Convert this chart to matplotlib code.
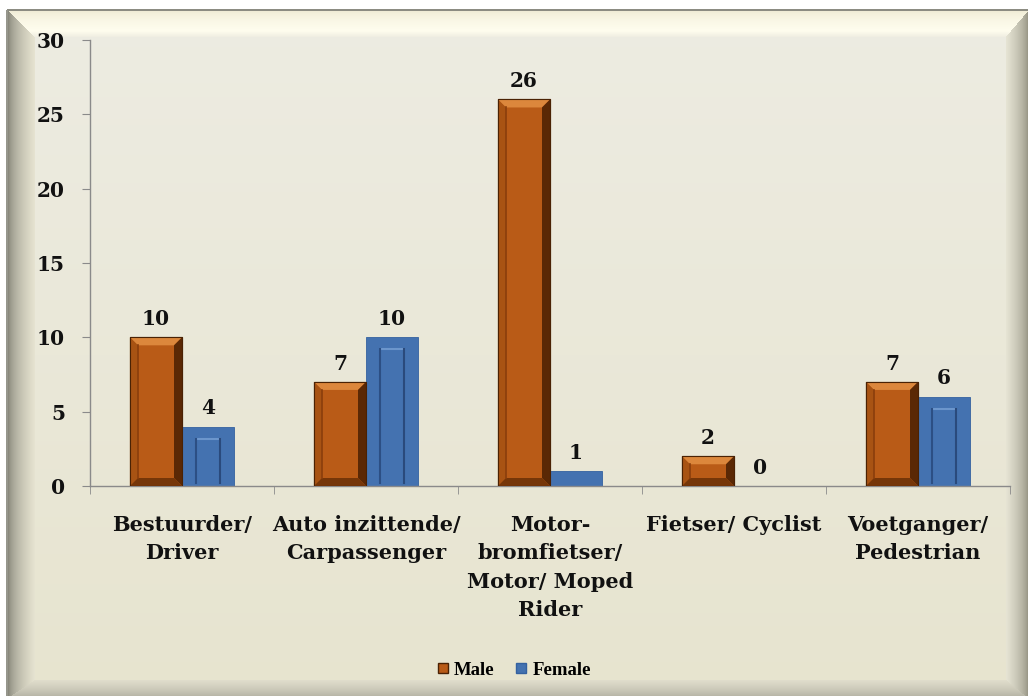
import numpy as np
import matplotlib
matplotlib.use('Agg')
import matplotlib.pyplot as plt
from matplotlib.patches import Polygon
from matplotlib.lines import Line2D

# ---------------- data ----------------
categories = ['Bestuurder/\nDriver', 'Auto inzittende/\nCarpassenger',
              'Motor-\nbromfietser/\nMotor/ Moped\nRider', 'Fietser/ Cyclist',
              'Voetganger/\nPedestrian']
male = [10, 7, 26, 2, 7]
female = [4, 10, 1, 0, 6]
series_names = ['Male', 'Female']
yticks = [0, 5, 10, 15, 20, 25, 30]

W, H = 1028, 696
FONT = 'DejaVu Serif'
plt.rcParams['font.family'] = [FONT, 'Liberation Serif']
plt.rcParams['font.weight'] = 'bold'

fig = plt.figure(figsize=(W / 100, H / 100), dpi=100)
fig.patch.set_facecolor('white')

# ---------------- framed background ----------------
bg = fig.add_axes([0, 0, 1, 1])
bg.axis('off')
yy, xx = np.mgrid[0:H, 0:W].astype(float)
img = np.ones((H, W, 3))
L, T, R, B = 7, 10, 1028, 698
wl, wt, wr, wb = 28, 27, 23, 19
t = np.clip((yy - T) / (B - T), 0, 1)[..., None]
top_col = np.array([237, 236, 226]) / 255
bot_col = np.array([231, 228, 207]) / 255
base = top_col * (1 - t) + bot_col * t
dl = (xx - L) / wl
dt = (yy - T) / wt
dr = (R - xx) / wr
db = (B - yy) / wb
stack = np.stack([dl, dt, dr, db])
side = np.argmin(stack, axis=0)
m = np.min(stack, axis=0)
s = np.clip(m, 0, 1)[..., None]


def grad(c0, c1, p=1.0):
    c0 = np.array(c0) / 255
    c1 = np.array(c1) / 255
    return c0 + (c1 - c0) * (s ** p)


left_c = grad((115, 115, 104), (232, 229, 210), 0.5)
right_c = grad((140, 138, 122), (232, 230, 214), 0.6)
bot_c = grad((170, 168, 155), (226, 223, 205), 0.7)
tt = s[..., 0]
c_a = np.array([236, 232, 208]) / 255
c_b = np.array([255, 253, 238]) / 255
c_c = np.array([238, 236, 224]) / 255
top_c = np.where((tt < 0.75)[..., None],
                 c_a + (c_b - c_a) * np.clip(tt / 0.75, 0, 1)[..., None] ** 0.5,
                 c_b + (c_c - c_b) * np.clip((tt - 0.75) / 0.25, 0, 1)[..., None])
frame = base.copy()
inb = (m < 1)
for k, c in enumerate([left_c, top_c, right_c, bot_c]):
    sel = inb & (side == k)
    frame[sel] = c[sel]
inside = (xx >= L) & (yy >= T)
img[inside] = frame[inside]
img[(yy >= T - 1) & (yy < T + 1) & (xx >= L)] = np.array([140, 140, 130]) / 255
img[(xx >= L - 1) & (xx < L + 1) & (yy >= T)] = np.array([150, 150, 140]) / 255
bg.imshow(img, extent=[0, W, H, 0], aspect='auto', interpolation='bilinear')
bg.set_xlim(0, W)
bg.set_ylim(H, 0)

# ---------------- main axes ----------------
ax = fig.add_axes([90 / W, (H - 486) / H, 920 / W, 446 / H])
ax.patch.set_alpha(0)
n = len(categories)
x = np.arange(n)
bw = 0.283

male_style = dict(face='#b95b17', top='#dc873c', left='#a85313', right='#5a2805',
                  bottom='#763608', edge='#4a2204', inner='#8a3e0c')
female_style = dict(face='#4472b0', top='#6c96cc', left='#2c4f84', right='#2a4a7c',
                    edge='#3461a0')

bars_m = ax.bar(x - bw / 2, male, bw, color=male_style['face'],
                edgecolor=male_style['edge'], linewidth=0.8, zorder=2)
bars_f = ax.bar(x + bw / 2, female, bw, color=female_style['face'],
                edgecolor=female_style['edge'], linewidth=0.6, zorder=2)

px_x = 1.0 / 184.0
px_y = 30.0 / 446.0

# bevel effect on male bars
st = male_style
for p in bars_m:
    h = p.get_height()
    if h <= 0:
        continue
    x0 = p.get_x()
    x1 = x0 + p.get_width()
    y0, y1 = 0, h
    dx = min(8 * px_x, 0.3 * p.get_width())
    dy = min(8 * px_y, 0.3 * h)
    polys = [
        ([(x0, y1), (x1, y1), (x1 - dx, y1 - dy), (x0 + dx, y1 - dy)], st['top']),
        ([(x0, y0), (x0, y1), (x0 + dx, y1 - dy), (x0 + dx, y0 + dy)], st['left']),
        ([(x1, y0), (x1, y1), (x1 - dx, y1 - dy), (x1 - dx, y0 + dy)], st['right']),
        ([(x0, y0), (x1, y0), (x1 - dx, y0 + dy), (x0 + dx, y0 + dy)], st['bottom']),
    ]
    for pts, c in polys:
        ax.add_patch(Polygon(pts, closed=True, facecolor=c, edgecolor='none', zorder=3))
    ax.plot([x0 + dx, x0 + dx], [y0 + dy, y1 - dy], color=st['inner'], lw=1.2, zorder=4)
    ax.plot([x0, x1, x1, x0, x0], [y0, y0, y1, y1, y0], color=st['edge'], lw=0.8, zorder=4)

# embossed inner panel on female bars
st = female_style
for p in bars_f:
    h = p.get_height()
    if h <= 0:
        continue
    x0 = p.get_x()
    x1 = x0 + p.get_width()
    y1 = h
    dx = 14 * px_x
    dy = min(12 * px_y, 0.5 * h)
    if h * 446 / 30 < 30:
        continue
    ax.plot([x0 + dx, x1 - dx], [y1 - dy, y1 - dy], color=st['top'], lw=1.5, zorder=4)
    ax.plot([x0 + dx, x0 + dx], [y1 - dy, 3 * px_y], color=st['left'], lw=1.5, zorder=4)
    ax.plot([x1 - dx, x1 - dx], [y1 - dy, 3 * px_y], color=st['right'], lw=1.5, zorder=4)

# value labels
for bars, vals in [(bars_m, male), (bars_f, female)]:
    for p, v in zip(bars, vals):
        ax.annotate(str(v), (p.get_x() + p.get_width() / 2, v), xytext=(0, 6),
                    textcoords='offset points', ha='center', va='bottom',
                    fontsize=14.5, fontweight='bold', color='#111111', zorder=5)

ax.set_xlim(-0.5, n - 0.5)
ax.set_ylim(0, 30)
ax.set_yticks(yticks)
ax.set_yticklabels([str(v) for v in yticks], fontsize=14.5, fontweight='bold', color='#111111')
ax.set_xticks(x)
ax.set_xticklabels(categories, fontsize=15, fontweight='bold', color='#111111',
                   linespacing=1.52)
ax.set_xticks(np.arange(-0.5, n, 1.0), minor=True)
ax.tick_params(axis='x', which='major', length=0, pad=21)
ax.tick_params(axis='x', which='minor', length=6, color='#8a8a8a', direction='out')
ax.tick_params(axis='y', length=6, color='#8a8a8a', pad=12)
for sp in ['top', 'right']:
    ax.spines[sp].set_visible(False)
for sp in ['left', 'bottom']:
    ax.spines[sp].set_color('#8a8a8a')
    ax.spines[sp].set_linewidth(1.0)

# legend
handles = [Line2D([0], [0], marker='s', linestyle='none', markersize=7.5,
                  markerfacecolor=male_style['face'], markeredgecolor=male_style['edge']),
           Line2D([0], [0], marker='s', linestyle='none', markersize=7.5,
                  markerfacecolor=female_style['face'], markeredgecolor=female_style['edge'])]
leg = fig.legend(handles, series_names, loc='center', bbox_to_anchor=(0.5, 1 - 670 / H),
                 ncol=2, frameon=False, handlelength=0.6,
                 handletextpad=0.3, columnspacing=1.1,
                 prop={'family': 'Liberation Serif', 'weight': 'bold', 'size': 13.5})

fig.savefig('out.png', dpi=100, facecolor='white')
